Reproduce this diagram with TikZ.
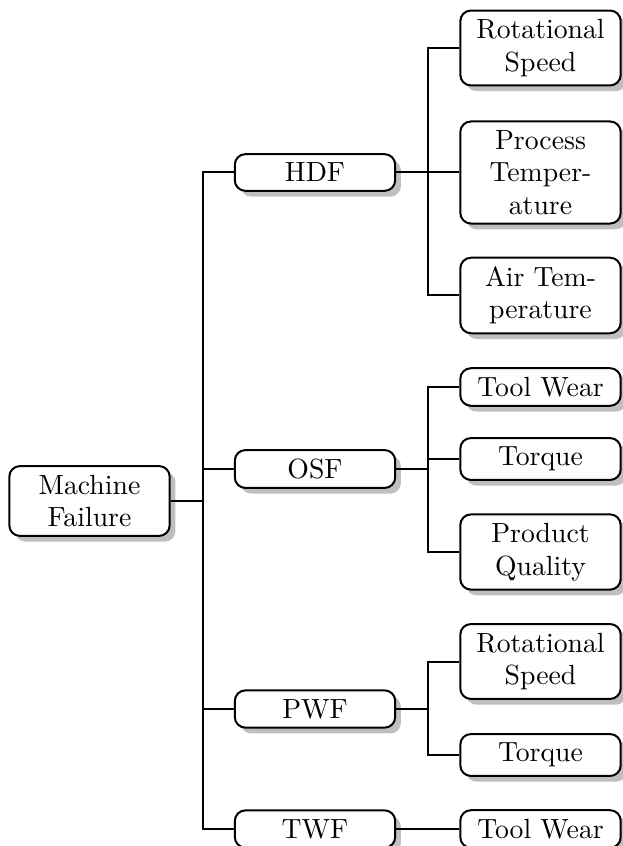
\documentclass[tikz,border=0pt]{standalone}
\usetikzlibrary{shadows}
\begin{document}
\begin{tikzpicture}[x=0.375pt,y=-0.375pt,
  box/.style={draw,line width=0.75pt,rounded corners=4pt,fill=white,drop shadow,
    text width=53.5pt,align=center,inner sep=3.33pt,font=\fontsize{10.4}{12.2}\selectfont},
  edge/.style={line width=0.75pt}]
\useasboundingbox (0,0) rectangle (622,846);
\node[box] (root) at (89.5,501) {Machine\\Failure};
\node[box] (hdf) at (315,172.5) {HDF};
\node[box] (osf) at (315,469) {OSF};
\node[box] (pwf) at (315,709) {PWF};
\node[box] (twf) at (315,829) {TWF};
\node[box] (h1) at (540.5,48) {Rotational\\Speed};
\node[box] (h2) at (540.5,172.5) {Process\\Temper-\\ature};
\node[box] (h3) at (540.5,295.5) {Air Tem-\\perature};
\node[box] (o1) at (540.5,387) {Tool Wear};
\node[box] (o2) at (540.5,459) {Torque};
\node[box] (o3) at (540.5,552) {Product\\Quality};
\node[box] (p1) at (540.5,661.5) {Rotational\\Speed};
\node[box] (p2) at (540.5,755) {Torque};
\node[box] (t1) at (540.5,829) {Tool Wear};
\foreach \c in {hdf,osf,pwf,twf}
  \draw[edge] (root.east) -- ++(32,0) |- (\c.west);
\foreach \c in {h1,h2,h3}
  \draw[edge] (hdf.east) -- ++(32,0) |- (\c.west);
\foreach \c in {o1,o2,o3}
  \draw[edge] (osf.east) -- ++(32,0) |- (\c.west);
\foreach \c in {p1,p2}
  \draw[edge] (pwf.east) -- ++(32,0) |- (\c.west);
\draw[edge] (twf.east) -- ++(32,0) |- (t1.west);
\end{tikzpicture}
\end{document}
